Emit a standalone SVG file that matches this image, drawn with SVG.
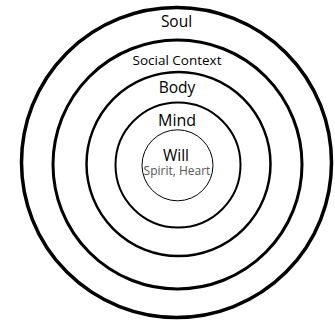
<svg xmlns="http://www.w3.org/2000/svg" width="335" height="325" viewBox="0 0 335 325">
<style>
  .ring { fill: none; stroke: #000; }
  .lbl { font-family: "Open Sans", "Noto Sans", "Liberation Sans", sans-serif; text-anchor: middle; fill: #000; }
  .sub { font-family: "Open Sans", "Noto Sans", "Liberation Sans", sans-serif; text-anchor: middle; fill: #555; }
</style>
<rect width="335" height="325" fill="#fff"/>
<g id="soul">
  <circle class="ring" cx="176.5" cy="162.5" r="155" stroke-width="3.5"/>
  <text class="lbl" x="176.5" y="27" font-size="15.5">Soul</text>
</g>
<g id="social-context">
  <circle class="ring" cx="177.5" cy="164.5" r="124.5" stroke-width="3"/>
  <text class="lbl" x="177" y="65" font-size="13.5">Social Context</text>
</g>
<g id="body">
  <circle class="ring" cx="178.5" cy="164" r="92" stroke-width="2.5"/>
  <text class="lbl" x="177" y="93" font-size="15.5">Body</text>
</g>
<g id="mind">
  <circle class="ring" cx="178" cy="165" r="62.5" stroke-width="2"/>
  <text class="lbl" x="177" y="126" font-size="16">Mind</text>
</g>
<g id="will">
  <circle class="ring" cx="177.5" cy="165.3" r="35.5" stroke-width="1"/>
  <text class="lbl" x="176" y="161" font-size="15.5">Will</text>
  <text class="sub" x="177" y="174.5" font-size="12">Spirit, Heart</text>
</g>
<g id="connectors"></g>
</svg>
